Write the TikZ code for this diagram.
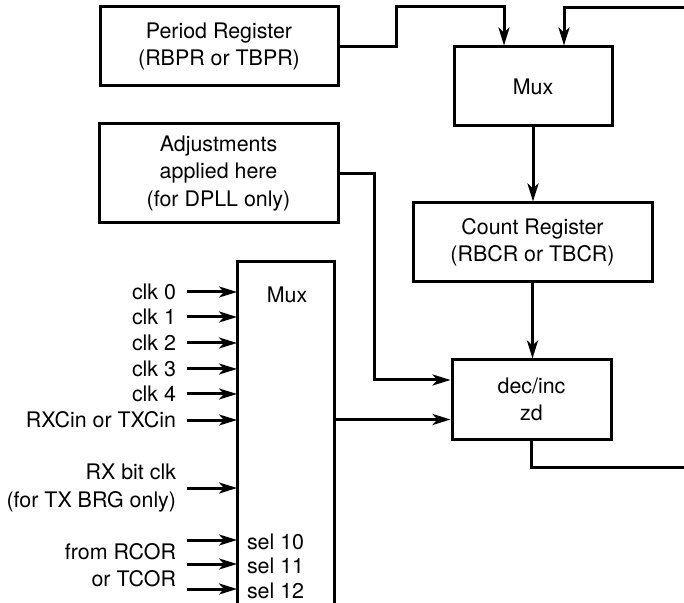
\documentclass[tikz,border=0pt]{standalone}
\usepackage{fontspec}
\setmainfont{TeX Gyre Heros}
\usetikzlibrary{arrows.meta,calc}

\begin{document}
\begin{tikzpicture}[x=0.5pt,y=-0.5pt,line width=1.5pt,
    font=\fontsize{10.7}{13.6}\selectfont,
    blk/.style={draw,align=center,minimum height=39.5pt},
    lbl/.style={inner sep=0pt,outer sep=0pt},
    arr/.style={-{Stealth[length=9pt,width=5.5pt,inset=2.5pt]}}]
  \useasboundingbox (0,0) rectangle (684,603);
  \node[blk,minimum width=119pt] (PR) at (219,46.5) {Period Register\\(RBPR or TBPR)};
  \node[blk,minimum width=79pt] (muxtop) at (533,86.5) {Mux};
  \node[blk,minimum width=119.5pt,minimum height=49.5pt] (adj) at (218.5,173.5) {
    Adjustments\\applied here\\(for DPLL only)};
  \node[blk,minimum width=119.5pt] (count) at (532.5,242.5) {Count Register\\(RBCR or TBCR)};
  \node[blk,minimum width=79.5pt] (decinc) at (531.5,399.5) {dec/inc\\zd};
  % big input mux, cut off at the bottom
  \node[minimum width=48.5pt,minimum height=170.5pt,inner sep=0pt,outer sep=0pt] (bigmux) at (285.5,432.5) {};
  \draw (bigmux.south west) |- (bigmux.north east) -- (bigmux.south east);
  \node (bigmuxlbl) at (287,295) {Mux};
  %% clock inputs
  \foreach \y/\txt [count=\i] in {292/clk 0,317/clk 1,343/clk 2,369/clk 3,394/clk 4,420/RXCin or TXCin}{
    \node[lbl,anchor=east,inner xsep=5.5pt] (in\i) at (187,\y) {\txt};
    \draw[arr] (in\i.east) -- (in\i.east -| bigmux.west);
  }
  \node[lbl,anchor=east,align=right,inner xsep=5.5pt] (rxbit) at (187,488) {RX bit clk\\(for TX BRG only)};
  \draw[arr] (rxbit.east) -- (rxbit.east -| bigmux.west);
  \node[lbl,anchor=east,align=right] (cor) at (176,565) {from RCOR\\or TCOR};
  \foreach \y/\s in {540/10,564/11,589/12}{
    \coordinate (sel\s) at (187,\y);
    \draw[arr] (sel\s) -- (sel\s -| bigmux.west);
    \node[lbl,anchor=west] (sellbl\s) at (247,\y+2) {sel \s};
  }
  %% loop through the counter
  \coordinate (fbin) at (684,8);
  \coordinate (fbout) at (684,467);
  \draw[arr] (PR.east) -| (396,7) -| ($(muxtop.north)+(-29,0)$);
  \draw[arr] (fbin) -| ($(muxtop.north)+(31,0)$);
  \draw[arr] (muxtop.south) -- (muxtop.south |- count.north);
  \draw[arr] (count.south) -- (count.south |- decinc.north);
  \coordinate (adjin) at ($(decinc.west)+(0,-19.5)$);
  \coordinate (muxin) at ($(decinc.west)+(0,20)$);
  \draw[arr] (adj.east) -| (374,380) -- (adjin);
  \draw[arr] (muxin -| bigmux.east) -- (muxin);
  \draw (decinc.south) |- (fbout);
\end{tikzpicture}
\end{document}
